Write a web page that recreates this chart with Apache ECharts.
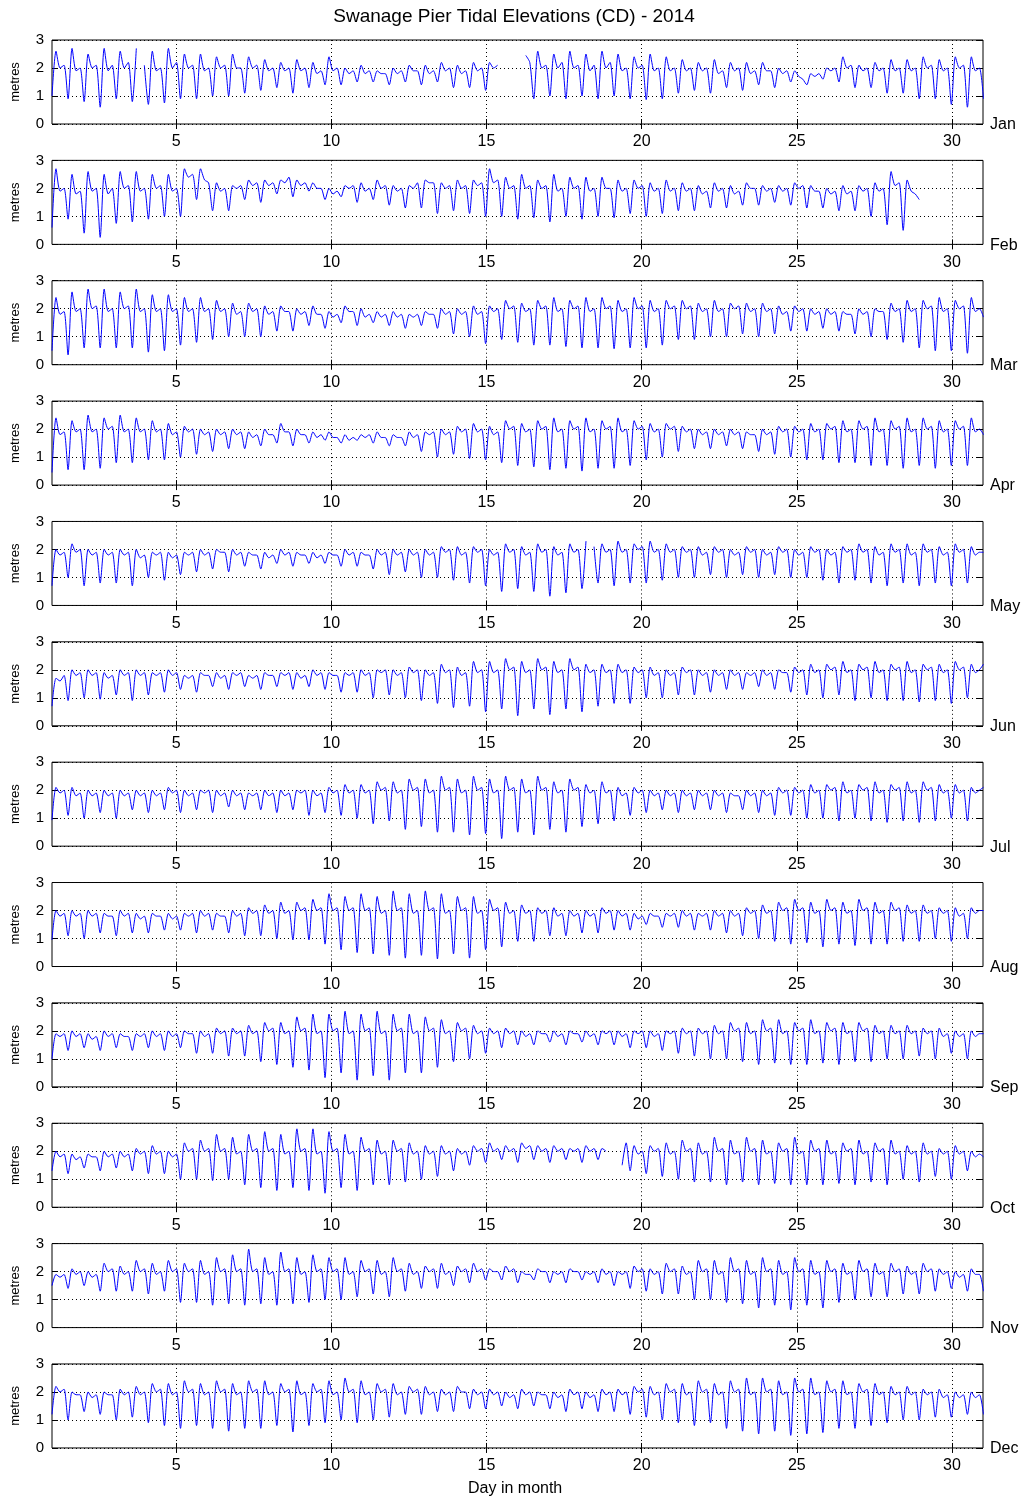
<!DOCTYPE html>
<html>
<head>
<meta charset="utf-8">
<script src="https://cdn.jsdelivr.net/npm/echarts@6/dist/echarts.min.js"></script>
<style>
html,body{margin:0;padding:0;background:#fff;}
#chart{width:1028px;height:1501px;}
</style>
</head>
<body>
<div id="chart"></div>
<script>
// ---- data (one tide = low, high1, stand, high2) ----
const MONTHS = ['Jan','Feb','Mar','Apr','May','Jun','Jul','Aug','Sep','Oct','Nov','Dec'];
const DAY_TICKS = [5, 10, 15, 20, 25, 30];
const METRE_TICKS = [0, 1, 2, 3];
const START_DAY = 1.0;          // day of first sample
const STEP_DAYS = 0.129375;     // quarter of a 12.42 h tide

const jan = [
1.0,2.6,2.0,2.1, 0.9,2.7,1.9,2.0, 0.8,2.5,2.0,2.1, 0.6,2.7,1.9,2.1, 0.9,2.6,2.0,2.2,
0.8,2.7,null,2.1, 0.7,2.6,1.9,2.0, 0.75,2.7,2.0,2.2, 0.9,2.5,2.0,2.1, 0.9,2.5,1.9,2.0,
1.0,2.4,2.0,2.1, 1.0,2.5,2.0,2.0, 1.1,2.4,2.0,2.1, 1.2,2.3,1.9,2.0, 1.3,2.2,1.9,2.0,
1.1,2.3,1.9,2.0, 1.3,2.2,1.8,1.9, 1.4,2.4,1.9,2.0, 1.4,2.0,1.8,1.9, 1.5,2.1,1.8,1.9,
1.5,1.9,1.8,1.8, 1.4,2.0,1.8,1.9, 1.5,2.1,1.9,1.9, 1.4,2.1,1.8,1.9, 1.5,2.2,1.9,2.0,
1.3,2.1,1.8,1.9, 1.3,2.2,1.9,2.0, 1.2,2.2,2.0,2.1, null,null,null,null, null,null,2.45,2.2,
0.9,2.6,2.0,2.1, 1.0,2.5,2.0,2.2, 0.9,2.6,2.0,2.1, 1.0,2.5,1.9,2.1, 0.9,2.6,2.0,2.2,
1.0,2.5,1.9,2.0, 0.9,2.4,2.0,2.1, 0.87,2.5,1.9,2.0, 0.9,2.4,1.9,2.0, 1.1,2.3,1.9,2.0,
1.2,2.2,1.9,2.0, 1.1,2.3,1.8,1.9, 1.3,2.2,1.9,2.0, 1.2,2.2,1.8,1.9, 1.4,2.2,1.9,1.9,
1.3,2.0,1.8,1.9, 1.5,1.9,1.7,1.6, 1.4,1.8,1.7,1.8, 1.6,2.0,1.9,2.0, 1.5,2.4,2.0,2.1,
1.3,2.1,1.9,2.0, 1.3,2.2,1.9,2.0, 1.1,2.3,1.9,2.0, 1.1,2.3,1.9,2.0, 0.9,2.4,2.0,2.1,
0.9,2.3,1.9,2.0, 0.7,2.4,2.0,2.1, 0.6,2.4,1.9,2.0, 0.9
];
const feb = [
0.6,2.7,1.9,2.0, 0.9,2.5,1.8,1.9, 0.4,2.6,1.9,2.0, 0.25,2.5,1.8,2.0, 0.75,2.6,2.0,2.1,
0.8,2.6,1.9,2.0, 0.9,2.5,2.0,2.1, 1.0,2.5,1.9,2.0, 1.0,2.7,2.4,2.5, 1.6,2.7,2.3,2.2,
1.2,2.2,1.9,2.0, 1.2,2.1,2.0,2.1, 1.6,2.3,2.1,2.2, 1.5,2.3,2.1,2.2, 1.8,2.3,2.2,2.4,
1.7,2.3,2.1,2.2, 1.9,2.2,2.0,2.0, 1.6,2.0,1.8,1.9, 1.7,2.1,2.0,2.1, 1.5,2.2,1.9,2.0,
1.6,2.3,2.0,2.1, 1.4,2.1,1.9,2.0, 1.3,2.1,2.0,2.2, 1.3,2.3,2.2,2.2, 1.1,2.2,2.0,2.1,
1.2,2.3,2.0,2.1, 1.1,2.3,2.1,2.2, 1.0,2.7,2.2,2.3, 1.0,2.4,2.0,2.1, 0.9,2.5,2.0,2.1,
0.95,2.3,2.0,2.1, 0.8,2.5,1.9,2.0, 1.0,2.4,2.0,2.1, 0.9,2.4,1.9,2.0, 1.0,2.4,2.0,2.0,
0.95,2.3,1.9,2.0, 1.1,2.3,2.0,2.1, 1.0,2.2,1.9,2.0, 1.1,2.3,1.9,2.0, 1.2,2.2,1.9,2.0,
1.2,2.1,1.8,1.9, 1.3,2.2,1.9,2.0, 1.3,2.1,1.8,1.9, 1.4,2.2,2.0,2.0, 1.4,2.1,1.9,2.0,
1.5,2.1,1.9,2.0, 1.4,2.2,2.0,2.1, 1.3,2.1,1.9,1.9, 1.3,2.0,1.8,1.9, 1.2,2.1,1.8,1.9,
1.2,2.1,1.9,2.0, 1.0,2.2,1.9,2.0, 0.7,2.6,2.1,2.2, 0.5,2.3,1.9,1.8, 1.6
];
const mar = [
0.5,2.4,1.8,1.9, 0.35,2.6,1.9,2.0, 0.6,2.7,2.0,2.1, 0.6,2.7,1.9,2.0, 0.6,2.6,2.0,2.1,
0.6,2.7,1.9,2.0, 0.45,2.5,1.9,2.0, 0.5,2.5,1.9,2.0, 0.7,2.4,1.9,2.0, 0.8,2.4,1.9,2.0,
0.9,2.3,1.9,2.0, 1.0,2.2,1.8,1.9, 1.0,2.2,1.9,2.0, 1.0,2.1,1.8,1.9, 1.2,2.1,1.9,1.9,
1.2,2.0,1.8,1.9, 1.4,2.1,1.8,1.8, 1.3,1.9,1.7,1.8, 1.5,2.1,1.9,1.9, 1.4,2.0,1.7,1.8,
1.5,1.9,1.7,1.8, 1.4,1.9,1.7,1.8, 1.3,1.8,1.7,1.8, 1.4,1.9,1.8,1.8, 1.3,2.0,1.8,1.9,
1.1,2.0,1.8,1.9, 1.0,2.1,1.8,1.9, 0.75,2.1,1.9,2.0, 0.9,2.3,2.0,2.1, 0.8,2.2,1.9,2.0,
0.7,2.3,2.0,2.1, 0.7,2.4,1.9,2.0, 0.65,2.3,2.0,2.1, 0.6,2.4,1.9,2.0, 0.6,2.4,2.0,2.1,
0.57,2.3,1.9,2.0, 0.6,2.4,2.0,2.1, 0.6,2.3,1.9,2.0, 0.7,2.3,2.0,2.1, 0.9,2.3,2.0,2.1,
0.9,2.2,1.9,2.0, 1.0,2.3,1.9,2.0, 1.0,2.2,2.0,2.1, 1.1,2.2,1.9,2.0, 1.0,2.2,1.9,2.0,
1.1,2.1,1.8,1.9, 1.2,2.1,1.9,2.0, 1.2,2.0,1.8,1.9, 1.3,2.0,1.8,1.9, 1.2,1.9,1.8,1.8,
1.1,2.0,1.8,1.9, 1.0,2.0,1.9,1.9, 0.9,2.2,1.9,2.0, 0.8,2.3,1.9,2.0, 0.6,2.3,2.0,2.1,
0.5,2.4,1.9,2.0, 0.5,2.3,2.0,2.1, 0.41,2.4,1.9,2.0, 1.7
];
const apr = [
0.45,2.4,1.8,1.9, 0.55,2.3,1.9,2.0, 0.55,2.5,1.9,2.0, 0.6,2.4,2.0,2.1, 0.8,2.5,1.9,2.0,
0.8,2.4,1.9,2.0, 0.9,2.3,1.9,2.0, 0.9,2.2,1.8,1.9, 1.0,2.1,1.9,2.0, 1.1,2.0,1.8,1.9,
1.2,2.0,1.8,1.9, 1.3,2.0,1.8,1.9, 1.3,1.9,1.7,1.8, 1.4,2.0,1.8,1.8, 1.5,2.2,1.9,1.9,
1.4,2.0,1.8,1.8, 1.5,1.9,1.7,1.8, 1.6,1.9,1.7,1.7, 1.5,1.8,1.6,1.7, 1.6,1.8,1.7,1.8,
1.5,1.9,1.7,1.7, 1.4,1.8,1.7,1.7, 1.4,1.9,1.7,1.8, 1.2,1.9,1.8,1.9, 1.0,2.0,1.8,1.9,
1.1,2.1,1.9,2.0, 0.95,2.2,1.9,2.0, 0.9,2.1,1.8,1.9, 0.8,2.3,2.0,2.1, 0.7,2.2,1.9,2.0,
0.65,2.3,2.0,2.1, 0.55,2.4,1.9,2.0, 0.6,2.3,2.0,2.1, 0.5,2.4,1.9,2.0, 0.6,2.3,2.0,2.1,
0.6,2.4,1.9,2.0, 0.7,2.3,2.0,2.1, 0.9,2.2,1.9,2.0, 1.0,2.2,2.0,2.1, 1.2,2.1,1.9,2.0,
1.3,2.0,1.8,1.9, 1.3,2.0,1.8,1.9, 1.4,2.0,1.8,1.9, 1.3,1.9,1.8,1.8, 1.2,2.0,1.8,1.9,
1.1,2.1,1.9,2.0, 1.0,2.1,1.9,2.0, 0.9,2.2,1.9,2.0, 0.9,2.2,2.0,2.1, 0.8,2.3,1.9,2.0,
0.8,2.3,2.0,2.1, 0.7,2.4,1.9,2.0, 0.7,2.3,2.0,2.1, 0.6,2.4,1.9,2.0, 0.7,2.4,2.0,2.1,
0.6,2.3,1.9,2.0, 0.7,2.3,2.0,2.1, 0.7,2.4,1.9,2.0, 1.8
];
const may = [
0.7,2.0,1.8,1.9, 1.0,2.2,1.9,2.0, 0.7,2.0,1.8,1.9, 0.8,2.0,1.8,1.9, 0.8,2.0,1.8,1.9,
0.7,2.0,1.7,1.8, 1.0,1.9,1.8,1.9, 0.9,1.9,1.7,1.8, 1.1,1.9,1.8,1.9, 1.2,2.0,1.8,1.9,
1.3,2.0,1.9,1.9, 1.2,2.0,1.8,1.9, 1.4,1.9,1.8,1.8, 1.3,1.9,1.7,1.8, 1.5,2.0,1.8,1.9,
1.4,1.9,1.8,1.8, 1.5,1.9,1.7,1.8, 1.5,1.9,1.8,1.8, 1.4,2.0,1.8,1.9, 1.4,1.9,1.8,1.8,
1.3,2.0,1.8,1.9, 1.1,2.0,1.8,1.9, 1.2,2.0,1.8,1.9, 1.0,2.0,1.8,1.9, 1.0,2.1,1.9,2.0,
0.9,2.1,1.8,1.9, 0.8,2.1,1.9,2.0, 0.7,2.0,1.8,1.9, 0.5,2.2,1.9,2.0, 0.6,2.1,1.8,1.9,
0.5,2.2,1.9,2.0, 0.33,2.1,1.8,1.9, 0.45,2.2,1.9,2.0, 0.6,2.3,null,2.1, 0.8,2.2,1.9,2.0,
0.7,2.3,1.9,2.0, 0.8,2.2,2.0,2.1, 0.8,2.3,1.9,2.0, 0.9,2.2,1.9,2.0, 1.0,2.1,1.9,2.0,
1.0,2.1,1.8,1.9, 1.1,2.1,1.9,2.0, 1.0,2.0,1.8,1.9, 1.1,2.1,1.9,2.0, 1.0,2.0,1.8,1.9,
1.1,2.1,1.9,2.0, 1.0,2.0,1.8,1.9, 1.0,2.1,1.9,2.0, 0.9,2.0,1.8,1.9, 0.8,2.1,1.9,2.0,
0.9,2.2,1.9,2.0, 0.8,2.1,1.8,1.9, 0.7,2.2,1.9,2.0, 0.8,2.2,1.8,1.9, 0.7,2.2,1.9,2.0,
0.8,2.1,1.8,1.9, 0.7,2.2,1.9,2.0, 0.8,2.1,1.8,1.9, 1.9
];
const jun = [
0.7,1.7,1.6,1.8, 0.9,2.0,1.8,1.9, 1.0,2.0,1.8,1.9, 0.95,1.9,1.7,1.8, 1.1,2.0,1.8,1.9,
0.9,2.0,1.8,1.9, 1.1,1.9,1.8,1.9, 1.2,2.0,1.8,1.9, 1.3,1.8,1.7,1.8, 1.2,1.9,1.8,1.8,
1.4,1.9,1.7,1.8, 1.3,1.9,1.8,1.9, 1.4,1.8,1.7,1.8, 1.3,1.9,1.8,1.8, 1.4,1.9,1.8,1.9,
1.3,1.9,1.7,1.8, 1.4,2.0,1.8,1.9, 1.3,1.9,1.8,1.8, 1.2,1.9,1.8,1.9, 1.2,2.0,1.8,1.9,
1.0,2.0,1.9,2.0, 1.1,2.0,1.8,1.9, 1.0,2.1,1.9,2.0, 0.9,2.0,1.8,1.9, 0.8,2.2,1.9,2.0,
0.65,2.1,1.8,1.9, 0.7,2.3,1.9,2.0, 0.5,2.3,1.9,2.0, 0.6,2.4,2.0,2.1, 0.36,2.3,1.9,2.0,
0.6,2.4,2.0,2.1, 0.4,2.3,1.9,2.0, 0.6,2.4,2.0,2.1, 0.5,2.2,1.9,2.0, 0.7,2.2,1.9,2.0,
0.8,2.2,1.9,2.0, 0.8,2.1,1.9,2.0, 1.0,2.1,1.8,1.9, 1.0,2.0,1.8,1.9, 1.1,2.1,1.9,2.0,
1.1,2.0,1.8,1.9, 1.2,2.0,1.8,1.9, 1.3,2.0,1.8,1.9, 1.3,1.9,1.8,1.9, 1.4,2.0,1.8,1.9,
1.3,2.0,1.9,1.9, 1.2,2.1,1.9,2.0, 1.1,2.2,1.9,2.0, 1.0,2.2,2.0,2.1, 1.1,2.3,1.9,2.0,
0.9,2.2,2.0,2.1, 1.0,2.3,1.9,2.0, 0.9,2.2,2.0,2.1, 0.9,2.3,1.9,2.0, 0.85,2.2,2.0,2.1,
0.9,2.2,1.9,2.0, 0.8,2.3,2.0,2.1, 1.0,2.2,1.9,2.0, 2.2
];
const jul = [
0.93,2.1,1.9,2.0, 1.1,2.1,1.8,1.9, 1.0,2.0,1.8,1.9, 1.2,2.0,1.8,1.9, 1.0,2.0,1.8,1.9,
1.3,2.0,1.8,1.9, 1.2,2.0,1.8,1.9, 1.3,2.1,1.9,2.0, 1.2,2.0,1.8,1.9, 1.3,2.0,1.9,2.0,
1.2,2.0,1.8,1.9, 1.4,2.0,1.8,1.9, 1.3,1.9,1.8,1.9, 1.3,2.0,1.8,1.9, 1.2,2.0,1.8,1.9,
1.3,2.0,1.9,2.0, 1.1,2.0,1.8,1.9, 1.2,2.1,1.9,2.0, 1.1,2.2,1.9,2.0, 1.0,2.2,1.9,2.0,
0.8,2.3,2.0,2.1, 0.9,2.3,1.9,2.0, 0.6,2.4,2.0,2.1, 0.7,2.4,1.9,2.0, 0.5,2.5,2.0,2.1,
0.5,2.4,1.9,2.0, 0.4,2.5,2.0,2.1, 0.45,2.4,1.9,2.0, 0.27,2.5,2.0,2.1, 0.5,2.4,1.9,2.0,
0.4,2.5,2.0,2.1, 0.6,2.3,1.9,2.0, 0.5,2.4,2.0,2.1, 0.7,2.2,1.9,2.0, 0.8,2.3,1.9,2.0,
0.9,2.1,1.8,1.9, 1.1,2.1,1.9,2.0, 1.2,2.0,1.8,1.9, 1.3,2.0,1.8,1.9, 1.2,2.0,1.8,1.9,
1.3,2.0,1.8,1.9, 1.3,2.0,1.8,1.9, 1.2,1.9,1.8,1.8, 1.3,2.0,1.8,1.9, 1.2,2.0,1.8,1.9,
1.1,2.1,1.9,2.0, 1.1,2.1,1.9,2.0, 1.0,2.2,1.9,2.0, 1.0,2.2,2.0,2.1, 0.9,2.3,1.9,2.0,
1.0,2.2,2.0,2.1, 0.9,2.3,1.9,2.0, 0.85,2.2,2.0,2.1, 0.9,2.3,1.9,2.0, 0.85,2.3,2.0,2.1,
0.9,2.2,1.9,2.0, 1.0,2.2,1.9,2.0, 0.9,2.1,1.9,2.0, 2.1
];
const aug = [
0.95,2.0,1.8,1.9, 1.1,2.0,1.8,1.9, 1.0,2.0,1.8,1.9, 1.2,1.9,1.8,1.8, 1.1,2.0,1.8,1.9,
1.2,1.9,1.7,1.8, 1.2,1.9,1.8,1.8, 1.3,1.9,1.7,1.8, 1.3,1.9,1.8,1.9, 1.2,2.0,1.8,1.9,
1.3,1.9,1.8,1.8, 1.2,2.0,1.8,1.9, 1.1,2.1,1.9,2.0, 1.1,2.2,1.9,2.0, 1.0,2.3,1.9,2.0,
0.95,2.3,2.0,2.1, 0.95,2.4,2.0,2.1, 0.8,2.6,2.0,2.1, 0.6,2.5,2.0,2.1, 0.5,2.6,2.0,2.1,
0.45,2.5,1.9,2.0, 0.4,2.7,2.0,2.1, 0.3,2.6,1.9,2.0, 0.4,2.7,2.0,2.1, 0.27,2.6,1.9,2.0,
0.45,2.5,2.0,2.1, 0.3,2.5,1.9,2.0, 0.6,2.4,2.0,2.1, 0.7,2.3,1.9,2.0, 0.9,2.2,1.9,2.0,
0.9,2.1,1.9,2.0, 1.1,2.1,1.8,1.9, 1.1,2.0,1.8,1.9, 1.2,2.0,1.8,1.9, 1.2,2.1,1.9,2.0,
1.3,2.0,1.8,1.9, 1.3,1.9,1.7,1.8, 1.5,1.9,1.8,1.8, 1.4,1.9,1.8,1.9, 1.4,2.0,1.8,1.9,
1.3,1.9,1.8,1.9, 1.3,2.0,1.8,1.9, 1.2,2.0,1.8,1.9, 1.1,2.1,1.9,2.0, 1.0,2.2,1.9,2.0,
0.9,2.3,2.0,2.1, 0.8,2.4,2.0,2.1, 0.85,2.3,1.9,2.0, 0.7,2.4,2.0,2.1, 0.8,2.3,1.9,2.0,
0.75,2.4,2.0,2.1, 0.8,2.3,1.9,2.0, 0.8,2.3,2.0,2.1, 0.9,2.2,1.9,2.0, 0.9,2.2,1.9,2.0,
1.0,2.1,1.9,2.0, 0.9,2.1,1.8,1.9, 1.0,2.1,1.9,2.0, 2.0
];
const sep = [
1.0,1.9,1.8,1.9, 1.3,2.0,1.8,1.9, 1.4,1.9,1.7,1.8, 1.3,2.0,1.8,1.9, 1.4,1.9,1.8,1.8,
1.3,1.9,1.8,1.9, 1.4,2.0,1.8,1.9, 1.3,2.0,1.8,1.9, 1.4,2.0,1.9,1.9, 1.2,2.0,1.8,1.9,
1.2,2.1,1.9,2.0, 1.1,2.1,1.9,2.0, 1.1,2.2,1.9,2.0, 0.9,2.3,2.0,2.1, 0.8,2.3,1.9,2.0,
0.7,2.5,2.0,2.1, 0.6,2.6,1.9,2.0, 0.33,2.6,2.0,2.1, 0.5,2.7,1.9,2.0, 0.24,2.6,2.0,2.1,
0.4,2.7,1.9,2.0, 0.24,2.6,2.0,2.1, 0.5,2.6,1.9,2.0, 0.5,2.5,2.0,2.1, 0.7,2.4,1.9,2.0,
0.9,2.3,2.0,2.1, 1.0,2.2,1.9,2.0, 1.2,2.1,1.9,2.0, 1.4,2.1,1.9,2.0, 1.5,2.0,1.8,1.9,
1.5,2.0,1.9,1.9, 1.6,2.0,1.8,1.9, 1.5,2.0,1.9,1.9, 1.6,2.0,1.8,1.9, 1.5,2.0,1.9,2.0,
1.5,2.0,1.8,1.9, 1.4,2.0,1.9,2.0, 1.4,2.0,1.8,1.9, 1.3,2.0,1.9,2.0, 1.2,2.1,1.9,2.0,
1.1,2.1,1.9,2.0, 1.0,2.2,1.9,2.0, 1.0,2.3,2.0,2.1, 0.9,2.3,1.9,2.0, 0.8,2.4,2.0,2.1,
0.85,2.4,1.9,2.0, 0.8,2.3,2.0,2.1, 0.8,2.4,1.9,2.0, 0.85,2.3,2.0,2.1, 0.8,2.3,1.9,2.0,
0.9,2.3,2.0,2.1, 0.9,2.2,1.9,2.0, 1.0,2.2,1.9,2.0, 1.0,2.2,1.9,2.0, 1.1,2.1,1.9,2.0,
1.0,2.1,1.8,1.9, 1.2,2.0,1.8,1.9, 1.0,2.0,1.8,1.9, 1.9
];
const oct = [
1.3,2.0,1.8,1.9, 1.2,1.9,1.7,1.8, 1.4,1.9,1.8,1.8, 1.3,2.0,1.8,1.9, 1.4,2.0,1.8,1.9,
1.3,2.1,1.9,2.0, 1.2,2.2,1.9,2.0, 1.2,2.0,1.8,1.9, 1.0,2.3,2.0,2.1, 1.0,2.4,2.0,2.1,
0.95,2.6,2.0,2.1, 1.0,2.5,1.9,2.0, 0.8,2.6,2.0,2.1, 0.7,2.7,2.0,2.1, 0.6,2.6,1.9,2.0,
0.7,2.8,2.0,2.1, 0.6,2.8,1.9,2.0, 0.5,2.7,2.0,2.1, 0.7,2.6,1.9,2.0, 0.6,2.5,2.0,2.1,
0.8,2.4,1.9,2.0, 0.8,2.4,2.0,2.1, 0.9,2.3,1.9,2.0, 1.0,2.2,1.9,2.0, 1.1,2.2,1.9,2.0,
1.3,2.1,1.9,2.0, 1.5,2.2,2.0,2.1, 1.6,2.3,2.0,2.1, 1.7,2.2,2.0,2.1, 1.6,2.3,2.1,2.2,
1.7,2.2,2.0,2.1, 1.6,2.2,2.0,2.1, 1.7,2.1,2.0,2.1, 1.6,2.2,2.0,2.1, 1.7,2.1,2.0,null,
null,null,1.5,2.3, 1.3,2.2,1.9,2.0, 1.2,2.2,2.0,2.1, 1.1,2.3,1.9,2.0, 1.0,2.4,2.0,2.1,
0.9,2.3,1.9,2.0, 0.9,2.5,2.0,2.1, 0.8,2.4,1.9,2.0, 0.9,2.5,2.0,2.1, 0.8,2.4,1.9,2.0,
0.85,2.3,2.0,2.1, 0.8,2.5,1.9,2.0, 0.8,2.4,2.0,2.1, 0.8,2.4,1.9,2.0, 0.85,2.3,2.0,2.1,
0.8,2.4,1.9,2.0, 0.9,2.3,2.0,2.1, 0.8,2.4,1.9,2.0, 1.0,2.2,1.9,2.0, 0.9,2.3,1.9,2.0,
1.1,2.1,1.9,2.0, 1.0,2.2,1.9,2.0, 1.3,2.0,1.8,1.9, 1.8
];
const nov = [
1.5,1.9,1.8,1.9, 1.4,2.1,1.9,2.0, 1.5,2.0,1.8,1.9, 1.3,2.3,2.0,2.1, 1.3,2.2,1.9,2.0,
1.3,2.4,2.0,2.1, 1.2,2.3,1.9,2.0, 1.3,2.4,2.0,2.1, 0.9,2.3,2.0,2.1, 0.9,2.4,1.9,2.0,
0.8,2.5,2.0,2.1, 0.85,2.6,2.0,2.1, 0.8,2.8,2.0,2.1, 0.85,2.5,1.9,2.0, 0.8,2.7,2.0,2.1,
0.85,2.5,1.9,2.0, 0.9,2.6,2.0,2.1, 1.0,2.5,2.0,2.1, 1.0,2.5,1.9,2.0, 1.1,2.4,2.0,2.1,
1.2,2.4,1.9,2.0, 1.1,2.5,2.0,2.1, 1.3,2.3,1.9,2.0, 1.4,2.2,2.0,2.1, 1.4,2.3,1.9,2.0,
1.5,2.2,2.0,2.1, 1.6,2.3,2.0,2.1, 1.7,2.1,2.0,2.0, 1.7,2.2,2.0,2.1, 1.6,2.0,1.9,1.9,
1.7,2.1,2.0,2.0, 1.6,2.0,1.9,2.0, 1.6,2.1,2.0,2.0, 1.7,2.0,1.9,2.0, 1.6,2.1,1.9,2.0,
1.5,2.0,1.9,2.0, 1.4,2.2,2.0,2.1, 1.3,2.1,1.9,2.0, 1.2,2.3,2.0,2.1, 1.2,2.2,1.9,2.0,
1.0,2.4,2.0,2.1, 1.0,2.4,1.9,2.0, 0.9,2.5,2.0,2.1, 0.85,2.4,1.9,2.0, 0.7,2.5,2.0,2.1,
0.8,2.4,1.9,2.0, 0.63,2.5,2.0,2.1, 0.8,2.4,1.9,2.0, 0.7,2.4,2.0,2.1, 0.9,2.3,1.9,2.0,
1.0,2.4,2.0,2.1, 1.1,2.3,1.9,2.0, 1.1,2.3,2.0,2.1, 1.2,2.2,1.9,2.0, 1.2,2.3,2.0,2.1,
1.3,2.1,1.9,2.0, 1.4,2.0,1.8,1.9, 1.3,2.1,1.9,1.9, 1.3
];
const dec = [
1.2,2.2,2.0,2.1, 1.0,2.0,1.9,1.9, 1.3,2.0,1.8,1.9, 1.2,2.0,1.9,1.9, 1.0,2.1,1.9,2.0,
1.1,2.2,1.9,2.0, 0.9,2.3,2.0,2.1, 0.8,2.3,1.9,2.0, 0.7,2.4,2.0,2.1, 0.8,2.3,1.9,2.0,
0.7,2.4,2.0,2.1, 0.6,2.3,1.9,2.0, 0.7,2.4,2.0,2.1, 0.7,2.4,1.9,2.0, 0.8,2.3,2.0,2.1,
0.57,2.4,1.9,2.0, 0.8,2.3,2.0,2.1, 0.9,2.4,1.9,2.0, 1.0,2.5,2.0,2.1, 0.9,2.4,1.9,2.0,
1.0,2.3,2.0,2.1, 1.1,2.3,1.9,2.0, 1.2,2.2,2.0,2.1, 1.2,2.2,1.9,2.0, 1.3,2.1,1.9,2.0,
1.3,2.2,2.0,2.0, 1.4,2.1,1.9,2.0, 1.4,2.1,1.9,2.0, 1.5,2.0,1.8,1.9, 1.4,2.1,1.9,2.0,
1.5,2.0,1.9,1.9, 1.4,2.0,1.8,1.9, 1.3,2.1,1.9,2.0, 1.4,2.0,1.8,1.9, 1.3,2.1,1.9,2.0,
1.3,2.1,1.9,2.0, 1.2,2.2,2.0,2.1, 1.1,2.2,1.9,2.0, 1.0,2.3,2.0,2.1, 0.9,2.3,1.9,2.0,
0.8,2.4,2.0,2.1, 0.9,2.3,1.9,2.0, 0.7,2.4,2.0,2.1, 0.6,2.5,1.9,2.0, 0.5,2.5,2.0,2.1,
0.6,2.4,1.9,2.0, 0.45,2.5,2.0,2.1, 0.5,2.5,1.9,2.0, 0.55,2.4,2.0,2.1, 0.7,2.4,1.9,2.0,
0.7,2.3,2.0,2.1, 0.8,2.3,1.9,2.0, 0.9,2.2,1.9,2.0, 1.0,2.2,1.9,2.0, 1.0,2.1,1.9,2.0,
1.1,2.1,1.8,1.9, 1.1,2.0,1.8,1.9, 1.2,2.0,1.8,1.9, 1.2
];
const MONTH_VALUES = [jan, feb, mar, apr, may, jun, jul, aug, sep, oct, nov, dec];

// ---- layout ----
const FONT = '"Liberation Sans", Arial, Helvetica, sans-serif';
const GRID_LEFT = 52, GRID_W = 931, GRID_H = 84, GRID_TOP0 = 40, GRID_PITCH = 120.36;

const grids = [], xAxes = [], yAxes = [], series = [], graphics = [];
MONTH_VALUES.forEach((vals, i) => {
  const top = GRID_TOP0 + i * GRID_PITCH;
  grids.push({ left: GRID_LEFT, top: top, width: GRID_W, height: GRID_H,
               show: true, borderColor: '#000', borderWidth: 1, backgroundColor: '#fff' });
  xAxes.push({
    type: 'value', gridIndex: i, min: 1, max: 31, position: 'bottom',
    axisLine: { show: false },
    axisTick: { show: true, inside: true, length: 5, lineStyle: { color: '#000' }, customValues: DAY_TICKS },
    axisLabel: { show: true, color: '#000', fontFamily: FONT, fontSize: 16, margin: 10, customValues: DAY_TICKS },
    splitLine: { show: true, lineStyle: { color: '#000', type: [1, 3], width: 1 } }
  });
  xAxes.push({
    type: 'value', gridIndex: i, min: 1, max: 31, position: 'top',
    axisLine: { show: false },
    axisTick: { show: true, inside: true, length: 5, lineStyle: { color: '#000' }, customValues: DAY_TICKS },
    axisLabel: { show: false }, splitLine: { show: false }
  });
  yAxes.push({
    type: 'value', gridIndex: i, min: 0, max: 3, interval: 1, position: 'left',
    name: 'metres', nameLocation: 'middle', nameGap: 30, nameRotate: 90,
    nameTextStyle: { color: '#000', fontFamily: FONT, fontSize: 13 },
    axisLine: { show: false },
    axisTick: { show: true, inside: true, length: 6, lineStyle: { color: '#000' } },
    axisLabel: { show: true, color: '#000', fontFamily: FONT, fontSize: 15, margin: 8 },
    splitLine: { show: true, lineStyle: { color: '#000', type: [1, 3], width: 1 } }
  });
  yAxes.push({
    type: 'value', gridIndex: i, min: 0, max: 3, interval: 1, position: 'right',
    axisLine: { show: false },
    axisTick: { show: true, inside: true, length: 6, lineStyle: { color: '#000' } },
    axisLabel: { show: false }, splitLine: { show: false }
  });
  series.push({
    type: 'line', xAxisIndex: 2 * i, yAxisIndex: 2 * i,
    data: vals.map((v, k) => [START_DAY + k * STEP_DAYS, v]),
    showSymbol: false, symbol: 'none', connectNulls: false, clip: true,
    smooth: 0.25,
    lineStyle: { color: '#0000FF', width: 1 }, silent: true, animation: false
  });
  graphics.push({
    type: 'text', left: 990, top: top + GRID_H - 7,
    style: { text: MONTHS[i], fill: '#000', font: '16px ' + FONT }
  });
});

graphics.push({
  type: 'text', left: 'center', top: 7,
  style: { text: 'Swanage Pier Tidal Elevations (CD) - 2014', fill: '#000', font: '19px ' + FONT }
});
graphics.push({
  type: 'text', left: 468, top: 1481,
  style: { text: 'Day in month', fill: '#000', font: '16px ' + FONT }
});

const chart = echarts.init(document.getElementById('chart'), null, { renderer: 'canvas' });
chart.setOption({
  animation: false,
  backgroundColor: '#fff',
  grid: grids, xAxis: xAxes, yAxis: yAxes, series: series, graphic: graphics
});
</script>
</body>
</html>
